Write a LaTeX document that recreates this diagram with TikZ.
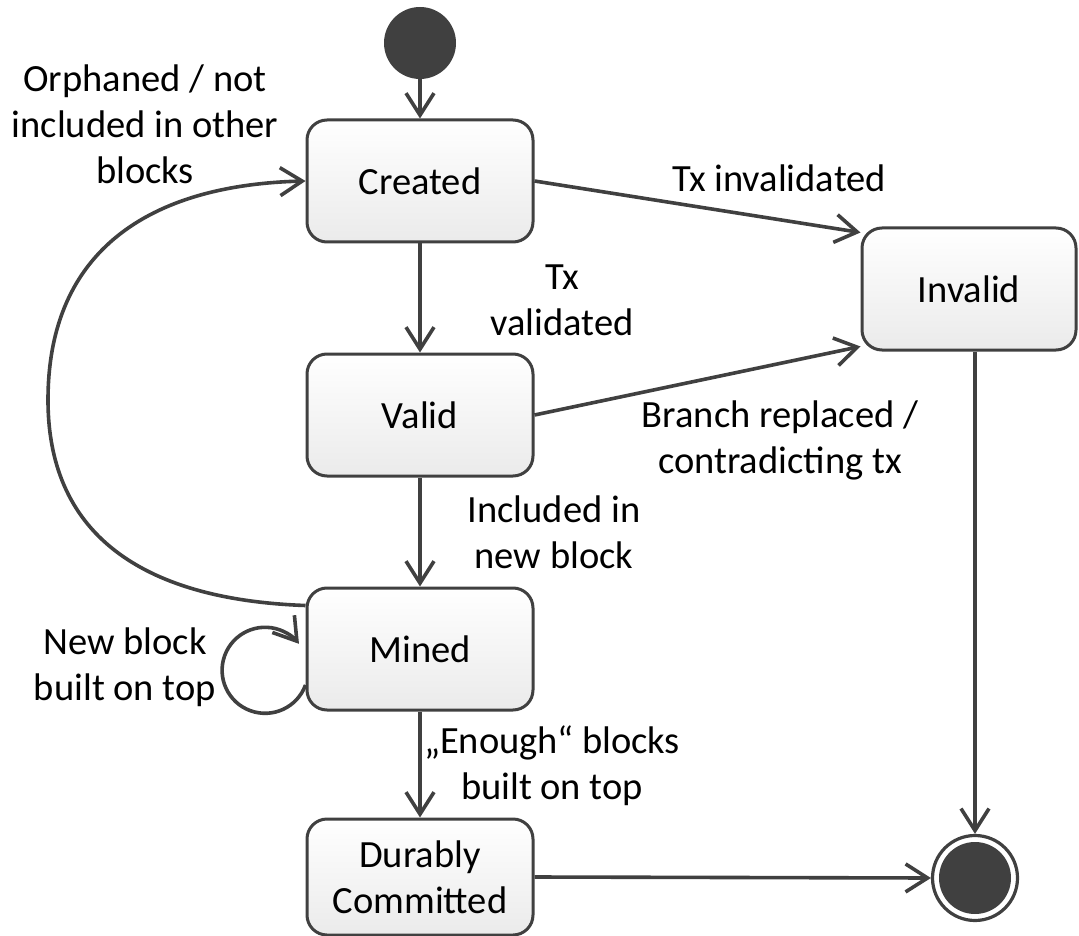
\documentclass[tikz,border=0pt]{standalone}
\usepackage{fontspec}
\setmainfont{Carlito}
\usetikzlibrary{arrows.meta}
\definecolor{ink}{HTML}{404040}
\begin{document}
\begin{tikzpicture}[x=1pt,y=-1pt,
  font=\fontsize{38.5}{46}\selectfont,
  state/.style={draw=ink, line width=3pt, rounded corners=20pt,
    minimum width=226pt, minimum height=122pt,
    top color=white, bottom color=black!8, align=center, inner sep=0pt},
  flow/.style={draw=ink, line width=3.6pt,
    -{Straight Barb[length=22pt,width=28pt,line width=3.6pt]}},
  lbl/.style={align=center, inner sep=0pt},
]
\useasboundingbox (0,0) rectangle (1079,936);

% states
\node[circle, fill=ink, draw=ink, line width=2pt, minimum size=70pt, inner sep=0pt] (init) at (420,43) {};
\node[state] (created) at (420,181) {Created};
\node[state] (valid) at (420,415) {Valid};
\node[state] (mined) at (420,649) {Mined};
\node[state, minimum height=116pt] (durable) at (420,877) {Durably\\Committed};
\node[state, minimum width=214pt] (invalid) at (969,289) {Invalid};
\node[circle, draw=ink, line width=3.2pt, fill=white, minimum size=85pt, inner sep=0pt] (final) at (975,878) {};
\fill[ink] (final.center) circle (36pt);

% transitions
\draw[flow] (init) -- (created);
\draw[flow] (created) -- (valid);
\draw[flow] (valid) -- (mined);
\draw[flow] (mined) -- (durable);
\draw[flow] (created.east) -- ([yshift=-6pt]invalid.north west);
\draw[flow] (valid.east) -- ([yshift=5pt]invalid.south west);
\draw[flow] (invalid.south -| final.north) -- (final.north);
\draw[flow] (durable.east) -- (final.west);
\draw[flow] ([yshift=-19pt]mined.north west)
  .. controls (150,600) and (48,540) .. (48,400)
  .. controls (48,250) and (150,185) .. (created.west);
\draw[flow] ([yshift=-36pt]mined.west) arc[start angle=20, end angle=322, radius=43];

% transition labels
\node[lbl] (lorph) at (145,124) {Orphaned / not\\included in other\\blocks};
\node[lbl] (linv) at (779,178) {Tx invalidated};
\node[lbl] (lval) at (562,300) {Tx\\validated};
\node[lbl] (lbranch) at (780,440) {Branch replaced /\\contradicting tx};
\node[lbl] (lincl) at (554,532) {Included in\\new block};
\node[lbl] (lnew) at (125,667) {New block\\built on top};
\node[lbl] (lenough) at (552,766) {„Enough“ blocks\\built on top};
\end{tikzpicture}
\end{document}
